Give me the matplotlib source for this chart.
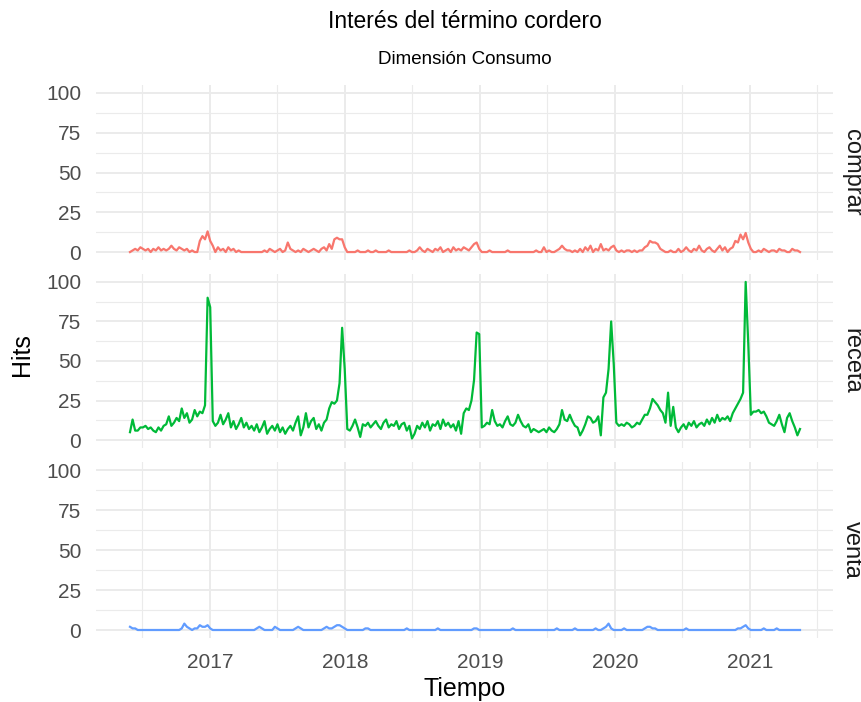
import numpy as np
import matplotlib
matplotlib.use("Agg")
import matplotlib.pyplot as plt
import matplotlib.dates as mdates
from matplotlib.ticker import FixedLocator

plt.rcParams['font.family'] = ['Liberation Sans', 'DejaVu Sans']

start_date = "2016-05-29"
n_weeks = 260

terms = ["comprar", "receta", "venta"]
colors = ["#F8766D", "#00BA38", "#619CFF"]

comprar = [
    0, 1, 2, 1, 3, 2, 1, 2, 0, 2, 1, 3, 1,
    2, 1, 2, 4, 2, 1, 3, 2, 1, 2, 0, 1, 0,
    0, 7, 10, 8, 13, 7, 4, 0, 3, 1, 2, 0, 3,
    1, 2, 0, 1, 0, 0, 0, 0, 0, 0, 0, 0, 0,
    1, 0, 2, 1, 0, 1, 2, 0, 1, 6, 2, 1, 0,
    1, 0, 2, 1, 0, 1, 2, 1, 0, 2, 3, 1, 5,
    2, 8, 9, 8, 8, 3, 0, 0, 0, 0, 1, 0, 0,
    0, 1, 0, 0, 1, 0, 0, 0, 0, 1, 0, 0, 0,
    0, 0, 0, 0, 1, 0, 0, 1, 3, 1, 0, 2, 1,
    0, 2, 1, 3, 0, 1, 2, 0, 3, 1, 2, 1, 3,
    2, 1, 3, 5, 6, 2, 0, 0, 0, 1, 0, 0, 0,
    0, 0, 0, 1, 0, 0, 0, 0, 0, 0, 0, 0, 0,
    0, 1, 0, 0, 3, 0, 1, 0, 0, 1, 2, 4, 2,
    1, 1, 0, 1, 0, 2, 0, 3, 1, 4, 0, 2, 1,
    5, 1, 2, 1, 3, 4, 1, 0, 1, 0, 1, 1, 0,
    1, 0, 1, 1, 3, 4, 7, 6, 6, 5, 2, 1, 0,
    0, 1, 0, 0, 2, 0, 1, 3, 1, 0, 2, 1, 4,
    1, 0, 2, 3, 1, 0, 2, 4, 1, 3, 0, 2, 3,
    7, 6, 11, 8, 12, 6, 2, 0, 0, 1, 0, 2, 1,
    0, 1, 1, 0, 2, 1, 1, 0, 0, 2, 1, 1, 0,
]

receta = [
    5, 13, 6, 6, 8, 8, 9, 7, 8, 6, 5, 8, 6,
    9, 10, 15, 9, 11, 14, 12, 20, 14, 17, 11, 13, 19,
    15, 18, 17, 22, 90, 84, 12, 9, 11, 16, 10, 13, 17,
    8, 12, 7, 10, 14, 8, 11, 7, 9, 6, 10, 5, 8,
    12, 4, 7, 9, 6, 10, 5, 8, 4, 7, 9, 6, 11,
    15, 3, 8, 17, 8, 12, 14, 7, 10, 6, 11, 13, 20,
    24, 23, 25, 36, 71, 45, 7, 6, 9, 13, 8, 2, 10,
    9, 11, 8, 10, 12, 9, 7, 11, 13, 8, 10, 9, 12,
    7, 10, 11, 6, 9, 1, 4, 9, 7, 11, 8, 12, 6,
    10, 9, 12, 7, 13, 9, 11, 8, 10, 6, 12, 4, 17,
    20, 19, 25, 38, 68, 67, 8, 9, 11, 10, 19, 12, 9,
    10, 8, 12, 15, 10, 9, 11, 16, 12, 9, 8, 10, 5,
    7, 6, 5, 6, 7, 5, 8, 6, 5, 7, 10, 19, 13,
    12, 16, 12, 9, 8, 3, 6, 10, 15, 14, 11, 12, 15,
    3, 27, 30, 45, 75, 48, 11, 9, 10, 9, 11, 10, 8,
    9, 11, 10, 13, 16, 16, 20, 26, 24, 22, 19, 17, 11,
    30, 9, 21, 8, 5, 8, 10, 7, 11, 9, 12, 8, 10,
    11, 9, 13, 10, 14, 11, 16, 12, 14, 13, 15, 12, 17,
    20, 23, 26, 30, 100, 61, 16, 18, 18, 19, 17, 18, 15,
    11, 10, 9, 12, 16, 10, 5, 14, 17, 12, 8, 3, 7,
]

venta = [
    2, 1, 1, 0, 0, 0, 0, 0, 0, 0, 0, 0, 0,
    0, 0, 0, 0, 0, 0, 0, 1, 4, 2, 1, 0, 1,
    1, 3, 2, 2, 3, 1, 0, 0, 0, 0, 0, 0, 0,
    0, 0, 0, 0, 0, 0, 0, 0, 0, 0, 1, 2, 1,
    0, 0, 0, 0, 2, 1, 0, 0, 0, 0, 0, 0, 1,
    2, 1, 0, 0, 0, 0, 0, 0, 0, 0, 1, 2, 1,
    1, 2, 3, 3, 2, 1, 0, 0, 0, 0, 0, 0, 0,
    1, 1, 0, 0, 0, 0, 0, 0, 0, 0, 0, 0, 0,
    0, 0, 0, 1, 0, 0, 0, 0, 0, 0, 0, 0, 0,
    0, 0, 1, 0, 0, 0, 0, 0, 0, 0, 0, 0, 0,
    0, 0, 0, 1, 1, 0, 0, 0, 0, 0, 0, 0, 0,
    0, 0, 0, 0, 0, 1, 0, 0, 0, 0, 0, 0, 0,
    0, 0, 0, 0, 0, 0, 0, 0, 0, 1, 0, 0, 0,
    0, 0, 0, 1, 0, 0, 0, 0, 0, 0, 0, 1, 0,
    0, 1, 2, 4, 1, 0, 0, 0, 0, 1, 0, 0, 0,
    0, 0, 0, 0, 1, 2, 2, 1, 1, 0, 0, 0, 0,
    0, 0, 0, 0, 0, 0, 0, 1, 0, 0, 0, 0, 0,
    0, 0, 0, 0, 0, 0, 0, 0, 0, 0, 0, 0, 0,
    0, 1, 1, 2, 3, 1, 0, 0, 0, 0, 0, 1, 0,
    0, 0, 0, 1, 0, 0, 0, 0, 0, 0, 0, 0, 0,
]

y_ticks = [0, 25, 50, 75, 100]
y_tick_labels = ["0", "25", "50", "75", "100"]
x_tick_years = [2017, 2018, 2019, 2020, 2021]

dates = np.datetime64(start_date) + np.arange(n_weeks) * np.timedelta64(7, 'D')
dates = dates.astype('datetime64[D]').astype(object)
series = [comprar, receta, venta]

fig = plt.figure(figsize=(8.62, 7.02), dpi=100)
left, right = 96.5 / 862, 833.5 / 862
panel_px = [(85, 260), (274, 448), (462, 638)]

dnum = mdates.date2num(dates)
span = dnum[-1] - dnum[0]
xlim = (dnum[0] - 0.05 * span, dnum[-1] + 0.05 * span)
major_x = [mdates.date2num(np.datetime64(f"{y}-01-01").astype(object)) for y in x_tick_years]
minor_x = [mdates.date2num(np.datetime64(f"{y}-07-01").astype(object)) for y in range(2016, 2022)]

grid_c = "#EBEBEB"
axes = []
for k, (term, col, vals) in enumerate(zip(terms, colors, series)):
    top, bot = panel_px[k]
    ax = fig.add_axes([left, 1 - bot / 702, right - left, (bot - top) / 702])
    axes.append(ax)
    ax.set_xlim(*xlim)
    ax.set_ylim(-5, 105)
    for s in ax.spines.values():
        s.set_visible(False)
    ax.yaxis.set_major_locator(FixedLocator(y_ticks))
    ax.yaxis.set_minor_locator(FixedLocator([12.5, 37.5, 62.5, 87.5]))
    ax.xaxis.set_major_locator(FixedLocator(major_x))
    ax.xaxis.set_minor_locator(FixedLocator(minor_x))
    ax.grid(which='major', color=grid_c, linewidth=1.4)
    ax.grid(which='minor', color=grid_c, linewidth=0.8)
    ax.set_axisbelow(True)
    ax.tick_params(which='both', length=0)
    ax.set_yticklabels(y_tick_labels, fontsize=15, color="#4D4D4D")
    ax.tick_params(axis='y', pad=11)
    if k < 2:
        ax.set_xticklabels([])
    else:
        ax.set_xticklabels([str(y) for y in x_tick_years], fontsize=15, color="#4D4D4D")
        ax.tick_params(axis='x', pad=11)
    ax.plot(dnum, vals, color=col, linewidth=1.6)
    ax.text(1.0 + 18 / (right - left) / 862, 0.5, term, transform=ax.transAxes,
            rotation=-90, ha='center', va='center', fontsize=17, color="#1A1A1A")

fig.text(465 / 862, 1 - 22 / 702, "Interés del término cordero", ha='center', va='center',
         fontsize=16.5, color="black")
fig.text(465 / 862, 1 - 60 / 702, "Dimensión Consumo", ha='center', va='center',
         fontsize=13.5, color="black")
fig.text(22 / 862, 1 - 355 / 702, "Hits", ha='center', va='center', rotation=90,
         fontsize=18, color="black")
fig.text(465 / 862, 1 - 689 / 702, "Tiempo", ha='center', va='center',
         fontsize=18, color="black")

fig.savefig("out.png", dpi=100, facecolor="white")
